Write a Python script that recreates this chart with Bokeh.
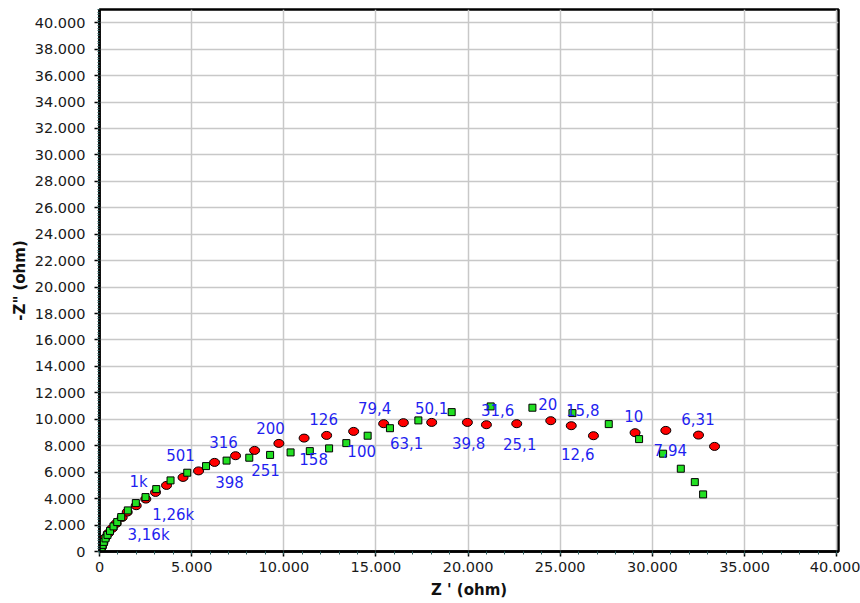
from bokeh.plotting import figure
from bokeh.models import Range1d, FixedTicker, ColumnDataSource
from bokeh.core.properties import value
from bokeh.embed import file_html
from bokeh.resources import INLINE

# ---- data (ohm) ----
red_x = [109, 179, 288, 472, 689, 906, 1232, 1504, 1992, 2514, 3040, 3637, 4533, 5375,
         6243, 7383, 8415, 9734, 11102, 12324, 13790, 15419, 16488, 18025, 19963, 20995,
         22640, 24486, 25599, 26803, 29062, 30730, 32504, 33373]
red_y = [333, 613, 991, 1369, 1747, 2125, 2580, 2980, 3464, 3964, 4470, 5000, 5605, 6097,
         6740, 7246, 7647, 8177, 8578, 8782, 9085, 9667, 9743, 9765, 9765, 9591,
         9667, 9894, 9516, 8759, 8986, 9160, 8805, 7950]

green_x = [27, 71, 109, 163, 233, 326, 434, 570, 760, 961, 1178, 1536, 1971, 2497, 3078,
           3855, 4761, 5782, 6895, 8127, 9257, 10369, 11412, 12459, 13393, 14550, 15760,
           17302, 19110, 21227, 23491, 25663, 27634, 29279, 30582, 31543, 32303, 32754]
green_y = [45, 159, 310, 499, 726, 991, 1256, 1558, 1899, 2224, 2603, 3109, 3662, 4115, 4720,
           5378, 5960, 6460, 6876, 7095, 7306, 7496, 7594, 7799, 8199, 8759, 9326,
           9917, 10544, 10975, 10877, 10469, 9637, 8502, 7398, 6263, 5249, 4319]

freq_labels = ["3,16k", "1,26k", "1k", "501", "398", "316", "251", "200", "158", "126",
               "100", "79,4", "63,1", "50,1", "39,8", "31,6", "25,1", "20", "15,8", "12,6",
               "10", "7,94", "6,31"]
freq_x = [2660, 4001, 2117, 4397, 7058, 6732, 9012, 9284, 11619, 12162,
          14225, 14931, 16668, 18025, 20034, 21608, 22803, 24323, 26223, 25951,
          28991, 30973, 32476]
freq_y = [1218, 2731, 5227, 7269, 5227, 8252, 6135, 9312, 6966, 9992,
          7572, 10824, 8177, 10824, 8177, 10673, 8101, 11127, 10673, 7345,
          10219, 7648, 9992]

x_ticks = [0, 5000, 10000, 15000, 20000, 25000, 30000, 35000, 40000]
x_tick_labels = ["0", "5.000", "10.000", "15.000", "20.000", "25.000", "30.000", "35.000", "40.000"]
y_ticks = list(range(0, 40001, 2000))
y_tick_labels = ["0"] + ["{:d}.000".format(v // 1000) for v in y_ticks[1:]]

x_minor = [v for v in range(0, 40001, 1000)]
y_minor = [v for v in range(0, 41001, 200)]

p = figure(width=860, height=603, output_backend="svg", toolbar_location=None,
           x_range=Range1d(0, 40100), y_range=Range1d(0, 41000),
           min_border_left=99, min_border_right=22, min_border_top=9, min_border_bottom=52)

p.background_fill_color = "white"
p.border_fill_color = "white"
p.outline_line_color = "black"
p.outline_line_width = 2.5

p.xaxis.ticker = FixedTicker(ticks=x_ticks, minor_ticks=x_minor)
p.yaxis.ticker = FixedTicker(ticks=y_ticks, minor_ticks=y_minor)
p.xaxis.major_label_overrides = {t: l for t, l in zip(x_ticks, x_tick_labels)}
p.yaxis.major_label_overrides = {t: l for t, l in zip(y_ticks, y_tick_labels)}

for ax in (p.xaxis, p.yaxis):
    ax.axis_line_color = "black"
    ax.axis_line_width = 2.5
    ax.major_tick_line_color = "black"
    ax.major_tick_line_width = 1.5
    ax.major_tick_out = 5
    ax.major_tick_in = 0
    ax.minor_tick_line_color = "#2f5f5f"
    ax.minor_tick_out = 3
    ax.minor_tick_in = 0
    ax.major_label_text_font = "DejaVu Sans"
    ax.major_label_text_font_size = "14.5px"
    ax.major_label_text_color = "#1a1a1a"
    ax.axis_label_text_font = "DejaVu Sans"
    ax.axis_label_text_font_style = "bold"
    ax.axis_label_text_font_size = "15px"
    ax.axis_label_text_color = "#111111"

p.yaxis.minor_tick_out = 2
p.xaxis.major_label_standoff = 5
p.xaxis.axis_label_standoff = 6
p.yaxis.major_label_standoff = 9
p.yaxis.axis_label_standoff = 3
p.xaxis.axis_label = "Z ' (ohm)"
p.yaxis.axis_label = '-Z" (ohm)'

p.xgrid.ticker = FixedTicker(ticks=x_ticks)
p.ygrid.ticker = FixedTicker(ticks=y_ticks)
p.grid.grid_line_color = "#c8c8c8"
p.grid.grid_line_width = 1.5

red_src = ColumnDataSource(dict(x=red_x, y=red_y))
green_src = ColumnDataSource(dict(x=green_x, y=green_y))
lab_src = ColumnDataSource(dict(x=freq_x, y=freq_y, t=freq_labels))

p.ellipse(x="x", y="y", width=10, height=8, width_units="screen", height_units="screen",
          source=red_src, fill_color="#ff0000", line_color="black", line_width=1)
p.scatter(x="x", y="y", source=green_src, marker="square", size=7,
          fill_color="#22e022", line_color="black", line_width=1)

p.text(x="x", y="y", text="t", source=lab_src, text_align="center", text_baseline="middle",
       text_font=value("DejaVu Sans"), text_font_size="15px", text_color="#1f1ff0")

open("out.html", "w").write(file_html(p, INLINE))
